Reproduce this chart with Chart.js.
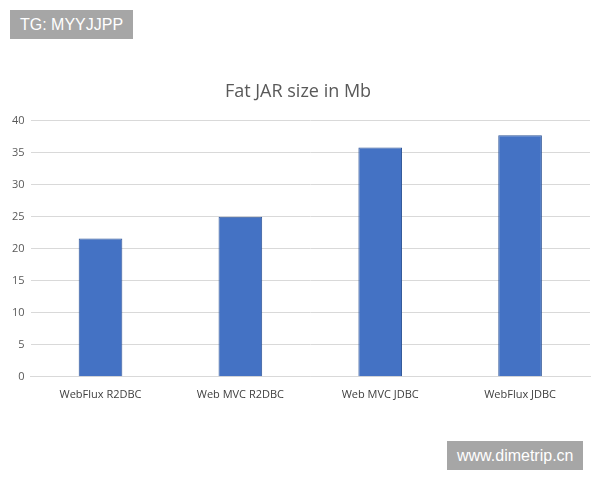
<!DOCTYPE html>
<html><head><meta charset="utf-8">
<script src="https://cdn.jsdelivr.net/npm/chart.js@4"></script>
<style>
body{margin:0;background:#fff;font-family:"Open Sans",sans-serif}
#wrap{position:absolute;left:0;top:60px;width:600px;height:350px}
.wm{position:absolute;background:#a6a6a6;color:#fff;font-family:"Liberation Sans",Arial,sans-serif;font-size:16px;padding:0 10px;line-height:29px}
</style></head><body>
<div id="wrap"><canvas id="c"></canvas></div>
<div class="wm" style="left:10px;top:10px;">TG: MYYJJPP</div>
<div class="wm" style="left:447px;top:441px;">www.dimetrip.cn</div>
<script>
const categories=["WebFlux R2DBC","Web MVC R2DBC","Web MVC JDBC","WebFlux JDBC"];
const sizes=[21.6,25.0,35.8,37.7];
new Chart(document.getElementById('c'),{
type:'bar',
data:{labels:categories,datasets:[{data:sizes,backgroundColor:'#4472c4',borderColor:'#2f5597',borderWidth:1,categoryPercentage:0.6,barPercentage:0.52}]},
options:{responsive:true,maintainAspectRatio:false,animation:false,
layout:{padding:{left:6,right:10,top:3,bottom:6}},
plugins:{legend:{display:false},title:{display:true,text:'Fat JAR size in Mb',color:'#595959',font:{size:18,family:'Open Sans',weight:'normal'},padding:{top:18,bottom:18}}},
scales:{
x:{grid:{display:false},border:{color:'#d9d9d9'},ticks:{color:'#404040',font:{size:11,family:'Open Sans'}}},
y:{min:0,max:40,ticks:{stepSize:5,color:'#595959',font:{size:11,family:'Open Sans'},padding:6},grid:{color:'#d9d9d9',drawTicks:false},border:{display:false}}
}}});
</script></body></html>
